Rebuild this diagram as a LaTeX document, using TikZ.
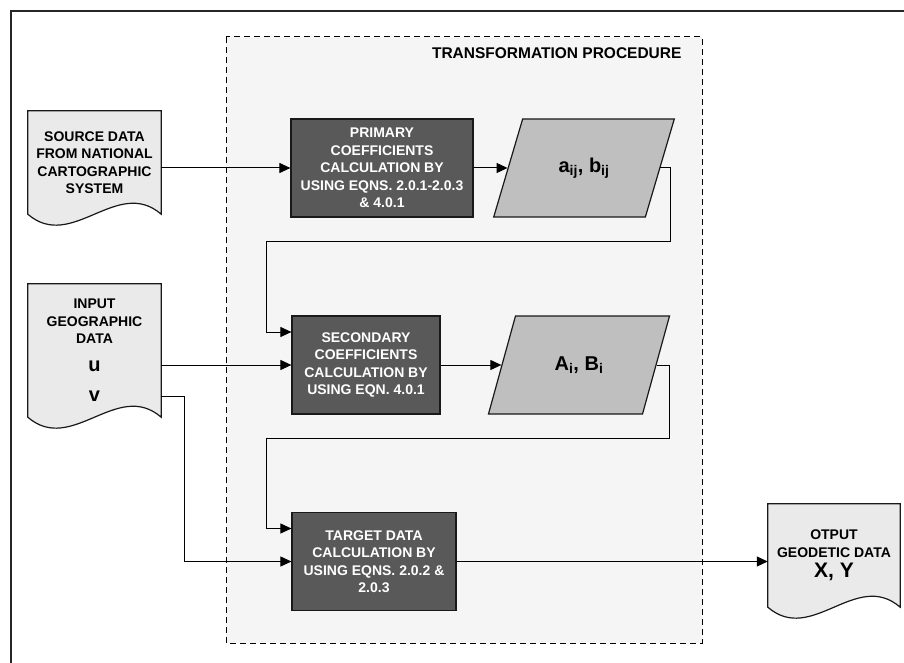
\documentclass[tikz,border=0pt]{standalone}
\usepackage{fontspec}
\setmainfont{Liberation Sans}
\usetikzlibrary{arrows.meta,calc,shapes.geometric,backgrounds}
\definecolor{procgray}{HTML}{595959}
\definecolor{datagray}{HTML}{BFBFBF}
\definecolor{docgray}{HTML}{EAEAEA}
\definecolor{areagray}{HTML}{F5F5F5}
\newcommand{\docoutline}[1]{\filldraw[docline] (#1.north west) -- (#1.north east) -- (#1.south east) .. controls +(-44,-38) and +(44,38) .. (#1.south west) -- cycle;}

\begin{document}
\begin{tikzpicture}[x=1pt,y=-1pt,
    txt/.style={font=\fontsize{14}{17.5}\selectfont\bfseries, align=center},
    big/.style={font=\fontsize{20}{24}\selectfont\bfseries},
    procbox/.style={txt, rectangle, draw=black!90, line width=1.2pt, fill=procgray, text=white, inner sep=0pt, minimum height=98pt},
    databox/.style={big, trapezium, trapezium left angle=63.4, trapezium right angle=116.6, trapezium stretches=true, draw=black!90, line width=1.2pt, fill=datagray, minimum width=182pt, minimum height=98pt},
    docbox/.style={txt, rectangle, minimum width=133pt, inner sep=0pt},
    docline/.style={draw=black!90, line width=1.2pt, fill=docgray},
    arr/.style={line width=1pt, -{Triangle[length=11pt,width=10pt]}}]

    \useasboundingbox (0,0) rectangle (904,663);
    \draw[line width=2pt, black!85] (11,663) -- (11,11) -- (904,11);

    \draw[fill=areagray, line width=1pt, dash pattern=on 6pt off 4pt] (226,37) rectangle (702,643);
    \node[font=\fontsize{15.5}{18}\selectfont\bfseries, anchor=east] (title) at (685,53) {TRANSFORMATION PROCEDURE};

    \node[procbox, minimum width=182pt] (primary) at (382,168) {PRIMARY\\COEFFICIENTS\\CALCULATION BY\\USING EQNS. 2.0.1-2.0.3\\\& 4.0.1};
    \node[procbox, minimum width=148pt] (secondary) at (366,365) {SECONDARY\\COEFFICIENTS\\CALCULATION BY\\USING EQN. 4.0.1};
    \node[procbox, minimum width=164pt] (target) at (374,561.5) {TARGET DATA\\CALCULATION BY\\USING EQNS. 2.0.2 \&\\2.0.3};

    \node[databox] (acoef) at (584,168) {a\textsubscript{ij}, b\textsubscript{ij}};
    \node[databox] (Acoef) at (579,365) {A\textsubscript{i}, B\textsubscript{i}};

    \node[docbox, minimum height=103pt] (srcdoc) at (94.5,162.5) {SOURCE DATA\\FROM NATIONAL\\CARTOGRAPHIC\\SYSTEM};
    \node[docbox, minimum height=133pt] (indoc) at (94.5,350.5) {};
    \node[txt] (inlabel) at (94.5,321.5) {INPUT\\GEOGRAPHIC\\DATA};
    \node[big] (u) at (94.5,366) {u};
    \node[big] (v) at (94.5,396) {v};
    \node[docbox, minimum width=132pt, minimum height=103pt] (outdoc) at (834,555.5) {OTPUT\\GEODETIC DATA\\[3pt]{\fontsize{21}{22}\selectfont X, Y}};

    \begin{scope}[on background layer]
        \fill[white] (0,0) rectangle (904,663);
        \docoutline{srcdoc}
        \docoutline{indoc}
        \docoutline{outdoc}
    \end{scope}

    \coordinate (loopA) at (670,241);
    \coordinate (loopB) at (669,438);
    \coordinate (secin) at ([yshift=33pt]secondary.west);
    \coordinate (tgin) at ([yshift=33pt]target.west);

    \draw[arr] (primary.west -| srcdoc.east) -- (primary.west);
    \draw[arr] (primary.east) -- (acoef.left side);
    \draw[arr] (acoef.right side) -| (loopA) -| ([xshift=-25pt]secin) -- (secin);
    \draw[arr] (secondary.west -| indoc.east) -- (secondary.west);
    \draw[arr] (secondary.east) -- (Acoef.left side);
    \draw[arr] (Acoef.right side) -| (loopB) -| ([xshift=-25pt]tgin) -- (tgin);
    \draw[arr] (v.east -| indoc.east) -| ([xshift=-107pt]target.west) -- (target.west);
    \draw[arr] (target.east) -- (target.east -| outdoc.west);
\end{tikzpicture}
\end{document}
